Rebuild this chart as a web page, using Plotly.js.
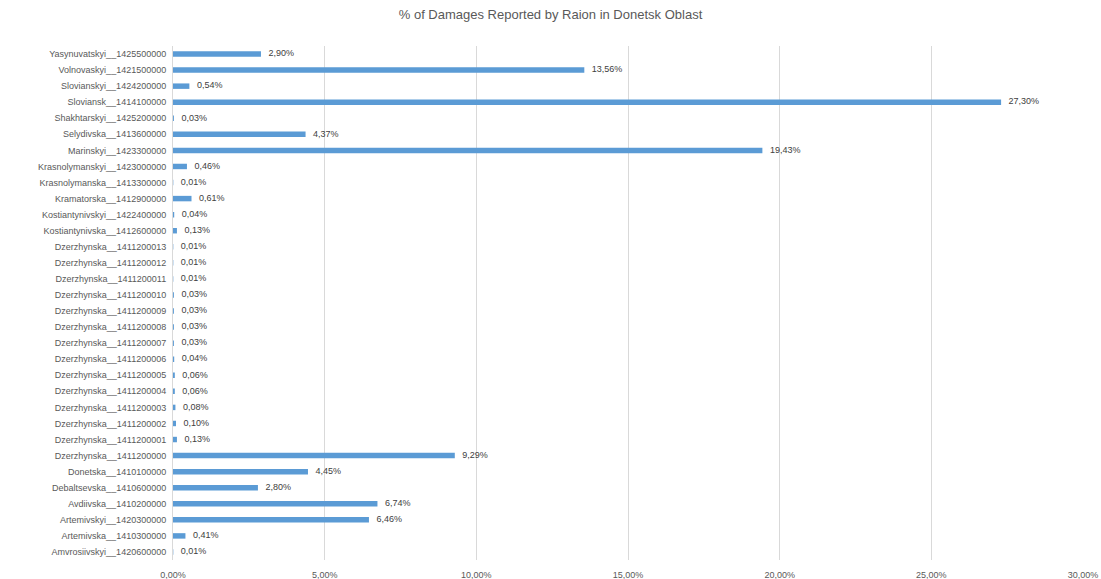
<!DOCTYPE html>
<html>
<head>
<meta charset="utf-8">
<script src="https://cdn.plot.ly/plotly-3.0.1.min.js"></script>
<style>html,body{margin:0;padding:0;background:#fff;}#chart{width:1101px;height:579px;}</style>
</head>
<body>
<div id="chart"></div>
<script>
const categories = [
  "Yasynuvatskyi__1425500000",
  "Volnovaskyi__1421500000",
  "Slovianskyi__1424200000",
  "Sloviansk__1414100000",
  "Shakhtarskyi__1425200000",
  "Selydivska__1413600000",
  "Marinskyi__1423300000",
  "Krasnolymanskyi__1423000000",
  "Krasnolymanska__1413300000",
  "Kramatorska__1412900000",
  "Kostiantynivskyi__1422400000",
  "Kostiantynivska__1412600000",
  "Dzerzhynska__1411200013",
  "Dzerzhynska__1411200012",
  "Dzerzhynska__1411200011",
  "Dzerzhynska__1411200010",
  "Dzerzhynska__1411200009",
  "Dzerzhynska__1411200008",
  "Dzerzhynska__1411200007",
  "Dzerzhynska__1411200006",
  "Dzerzhynska__1411200005",
  "Dzerzhynska__1411200004",
  "Dzerzhynska__1411200003",
  "Dzerzhynska__1411200002",
  "Dzerzhynska__1411200001",
  "Dzerzhynska__1411200000",
  "Donetska__1410100000",
  "Debaltsevska__1410600000",
  "Avdiivska__1410200000",
  "Artemivskyi__1420300000",
  "Artemivska__1410300000",
  "Amvrosiivskyi__1420600000"
];
const percentValues = [
  2.90, 13.56, 0.54, 27.30, 0.03, 4.37, 19.43, 0.46, 0.01, 0.61, 0.04, 0.13,
  0.01, 0.01, 0.01, 0.03, 0.03, 0.03, 0.03, 0.04, 0.06, 0.06, 0.08, 0.10, 0.13,
  9.29, 4.45, 2.80, 6.74, 6.46, 0.41, 0.01
];
const tickValuesPct = [0, 5, 10, 15, 20, 25, 30];

const fractions = percentValues.map(v => v / 100);
const fontFam = 'Liberation Sans, Arial, sans-serif';

const bars = {
  type: 'bar',
  orientation: 'h',
  y: categories,
  x: fractions,
  marker: {color: '#5B9BD5'},
  hoverinfo: 'x+y'
};

const labels = {
  type: 'scatter',
  mode: 'text',
  y: categories,
  x: fractions,
  text: percentValues.map(v => '\u00a0\u00a0\u00a0' + v.toFixed(2).replace('.', ',') + '%'),
  textposition: 'middle right',
  textfont: {family: fontFam, size: 9, color: '#404040'},
  cliponaxis: false,
  hoverinfo: 'skip'
};

const layout = {
  width: 1101,
  height: 579,
  separators: ',.',
  paper_bgcolor: '#ffffff',
  plot_bgcolor: '#ffffff',
  margin: {l: 173, r: 18, t: 46, b: 19},
  bargap: 0.66,
  showlegend: false,
  title: {
    text: '% of Damages Reported by Raion in Donetsk Oblast',
    font: {family: fontFam, size: 13, color: '#595959'},
    x: 0.5, xanchor: 'center', y: 0.975, yanchor: 'middle'
  },
  xaxis: {
    range: [0, 0.30],
    tickvals: tickValuesPct.map(v => v / 100),
    tickformat: '.2%',
    showgrid: true,
    gridcolor: '#d9d9d9',
    gridwidth: 1,
    zeroline: false,
    showline: false,
    ticks: '',
    ticklabelstandoff: 8,
    tickfont: {family: fontFam, size: 9, color: '#595959'},
    fixedrange: true
  },
  yaxis: {
    type: 'category',
    range: [categories.length - 0.5, -0.5],
    showline: true,
    linecolor: '#d9d9d9',
    linewidth: 1,
    showgrid: false,
    ticks: '',
    ticklabelstandoff: 4,
    tickfont: {family: fontFam, size: 9, color: '#595959'},
    fixedrange: true
  }
};

Plotly.newPlot('chart', [bars, labels], layout, {displayModeBar: false, staticPlot: true});
</script>
</body>
</html>
